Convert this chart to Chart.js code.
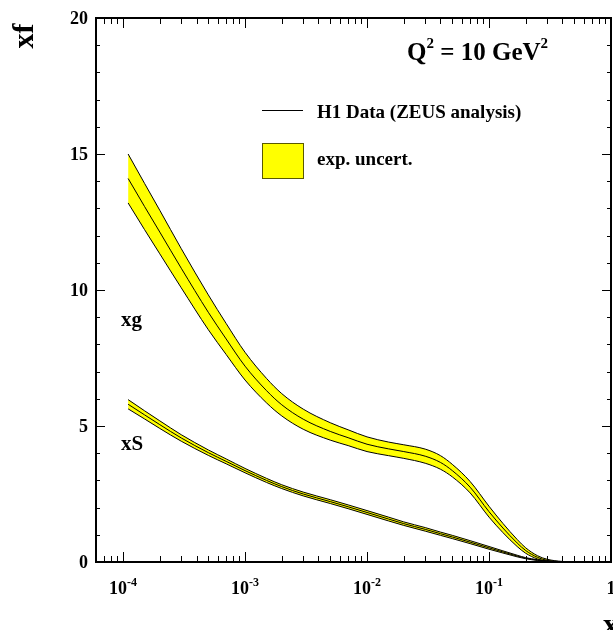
<!DOCTYPE html>
<html>
<head>
<meta charset="utf-8">
<script src="https://cdn.jsdelivr.net/npm/chart.js@4.4.1/dist/chart.umd.min.js"></script>
<style>
  html, body { margin: 0; padding: 0; background: #fff; }
  #wrap { width: 613px; height: 630px; }
</style>
</head>
<body>
<div id="wrap"><canvas id="pdfChart"></canvas></div>
<script>
// x grid shared by both distributions
var xValues = [1.1e-4, 1.5e-4, 2e-4, 3e-4, 5e-4, 7e-4, 1e-3, 1.5e-3, 2e-3, 3e-3, 5e-3, 7e-3,
               1e-2, 1.5e-2, 2e-2, 3e-2, 4e-2, 5e-2, 7e-2, 0.1, 0.13, 0.17, 0.2, 0.25, 0.3, 0.4, 0.5];

// gluon xg: central value and half width of exp. uncertainty
var xgCentral = [14.1, 13.07, 12.13, 10.8, 9.18, 8.2, 7.2, 6.3, 5.78, 5.25, 4.8, 4.57,
                 4.33, 4.16, 4.06, 3.89, 3.66, 3.36, 2.75, 1.85, 1.25, 0.7, 0.42, 0.17, 0.06, 0.01, 0];
var xgErr = [0.9, 0.85, 0.8, 0.72, 0.64, 0.57, 0.51, 0.45, 0.41, 0.37, 0.32, 0.29,
             0.27, 0.25, 0.25, 0.26, 0.25, 0.23, 0.21, 0.2, 0.17, 0.13, 0.1, 0.06, 0.04, 0.01, 0];

// sea xS
var xsCentral = [5.8, 5.41, 5.05, 4.56, 4.02, 3.7, 3.36, 3.0, 2.77, 2.5, 2.22, 2.03,
                 1.82, 1.58, 1.41, 1.2, 1.04, 0.92, 0.73, 0.52, 0.37, 0.22, 0.14, 0.07, 0.03, 0.005, 0];
var xsErr = [0.17, 0.15, 0.14, 0.12, 0.1, 0.09, 0.08, 0.075, 0.07, 0.07, 0.07, 0.07,
             0.07, 0.07, 0.065, 0.065, 0.06, 0.06, 0.055, 0.05, 0.04, 0.03, 0.02, 0.015, 0.01, 0.005, 0];

var xMajorTicks = [1e-4, 1e-3, 1e-2, 1e-1, 1];
var xTickLabels = [['10', '-4'], ['10', '-3'], ['10', '-2'], ['10', '-1'], ['1', '']];
var yMajorTicks = [0, 5, 10, 15, 20];

var serif = '"Liberation Serif", "Times New Roman", serif';

function pts(vals, errs, sign) {
    return xValues.map(function (x, i) {
        return { x: x, y: vals[i] + sign * (errs ? errs[i] : 0) };
    });
}

function bandDatasets(vals, errs) {
    var line = {
        borderColor: '#000',
        borderWidth: 1,
        pointRadius: 0,
        cubicInterpolationMode: 'monotone'
    };
    return [
        Object.assign({ data: pts(vals, errs, 1), fill: '+1', backgroundColor: '#ffff00' }, line),
        Object.assign({ data: pts(vals, errs, -1), fill: false }, line),
        Object.assign({ data: pts(vals, null, 0), fill: false }, line)
    ];
}

function drawPow(ctx, base, exp, cx, baseline, size) {
    ctx.font = 'bold ' + size + 'px ' + serif;
    var wb = ctx.measureText(base).width;
    var supSize = Math.round(size * 0.68);
    ctx.font = 'bold ' + supSize + 'px ' + serif;
    var we = exp ? ctx.measureText(exp).width : 0;
    var x0 = cx - (wb + we) / 2;
    ctx.textAlign = 'left';
    ctx.textBaseline = 'alphabetic';
    ctx.font = 'bold ' + size + 'px ' + serif;
    ctx.fillText(base, x0, baseline);
    if (exp) {
        ctx.font = 'bold ' + supSize + 'px ' + serif;
        ctx.fillText(exp, x0 + wb, baseline - size * 0.45);
    }
}

var framePlugin = {
    id: 'frame',
    afterDraw: function (chart) {
        var ctx = chart.ctx, a = chart.chartArea;
        var xs = chart.scales.x, ys = chart.scales.y;
        ctx.save();
        ctx.strokeStyle = '#000';
        ctx.fillStyle = '#000';

        // ticks
        ctx.lineWidth = 1;
        ctx.beginPath();
        for (var d = -5; d <= 0; d++) {
            for (var k = 1; k <= 9; k++) {
                var v = k * Math.pow(10, d);
                if (v < xs.min * 0.999 || v > xs.max * 1.001) continue;
                var px = Math.round(xs.getPixelForValue(v)) + 0.5;
                var len = k === 1 ? 10 : 6;
                ctx.moveTo(px, a.bottom); ctx.lineTo(px, a.bottom - len);
                ctx.moveTo(px, a.top); ctx.lineTo(px, a.top + len);
            }
        }
        for (var yv = 0; yv <= 20; yv++) {
            var py = Math.round(ys.getPixelForValue(yv)) + 0.5;
            var ylen = yv % 5 === 0 ? 9 : 4;
            ctx.moveTo(a.left, py); ctx.lineTo(a.left + ylen, py);
            ctx.moveTo(a.right, py); ctx.lineTo(a.right - ylen, py);
        }
        ctx.stroke();

        // frame
        ctx.lineWidth = 2;
        ctx.strokeRect(a.left, a.top, a.right - a.left, a.bottom - a.top);

        // y tick labels
        ctx.font = 'bold 18px ' + serif;
        ctx.textAlign = 'right';
        ctx.textBaseline = 'middle';
        yMajorTicks.forEach(function (t) {
            ctx.fillText(String(t), a.left - 8, ys.getPixelForValue(t) + 1);
        });

        // x tick labels
        xMajorTicks.forEach(function (t, i) {
            drawPow(ctx, xTickLabels[i][0], xTickLabels[i][1], xs.getPixelForValue(t), a.bottom + 32, 18);
        });

        // axis titles
        ctx.font = 'bold 30px ' + serif;
        ctx.textAlign = 'center';
        ctx.textBaseline = 'middle';
        ctx.save();
        ctx.translate(25, 36);
        ctx.rotate(-Math.PI / 2);
        ctx.fillText('xf', 0, 0);
        ctx.restore();
        ctx.textAlign = 'left';
        ctx.textBaseline = 'alphabetic';
        ctx.fillText('x', 603, 634);

        // curve labels
        ctx.font = 'bold 21px ' + serif;
        ctx.fillText('xg', 121, 326);
        ctx.fillText('xS', 121, 450);

        // Q2 header
        ctx.font = 'bold 25px ' + serif;
        var qx = 407, qb = 60;
        ctx.fillText('Q', qx, qb);
        qx += ctx.measureText('Q').width;
        ctx.font = 'bold 15px ' + serif;
        ctx.fillText('2', qx, qb - 12);
        qx += ctx.measureText('2').width;
        ctx.font = 'bold 25px ' + serif;
        ctx.fillText(' = 10 GeV', qx, qb);
        qx += ctx.measureText(' = 10 GeV').width;
        ctx.font = 'bold 15px ' + serif;
        ctx.fillText('2', qx, qb - 12);

        // legend
        ctx.lineWidth = 1;
        ctx.beginPath();
        ctx.moveTo(262, 110.5); ctx.lineTo(303, 110.5);
        ctx.stroke();
        ctx.fillStyle = '#ffff00';
        ctx.fillRect(262, 143, 41, 35);
        ctx.strokeStyle = '#5a5a00';
        ctx.strokeRect(262.5, 143.5, 41, 35);
        ctx.fillStyle = '#000';
        ctx.font = 'bold 19px ' + serif;
        ctx.fillText('H1 Data (ZEUS analysis)', 317, 118);
        ctx.fillText('exp. uncert.', 317, 165);
        ctx.restore();
    }
};

new Chart(document.getElementById('pdfChart'), {
    type: 'line',
    data: {
        datasets: bandDatasets(xgCentral, xgErr).concat(bandDatasets(xsCentral, xsErr))
    },
    options: {
        responsive: true,
        maintainAspectRatio: false,
        animation: false,
        layout: { padding: { left: 96, right: 2, top: 18, bottom: 68 } },
        scales: {
            x: { type: 'logarithmic', min: 6e-5, max: 1, display: false },
            y: { type: 'linear', min: 0, max: 20, display: false }
        },
        plugins: {
            legend: { display: false },
            tooltip: { enabled: false },
            filler: { drawTime: 'beforeDatasetsDraw' }
        }
    },
    plugins: [framePlugin]
});
</script>
</body>
</html>
